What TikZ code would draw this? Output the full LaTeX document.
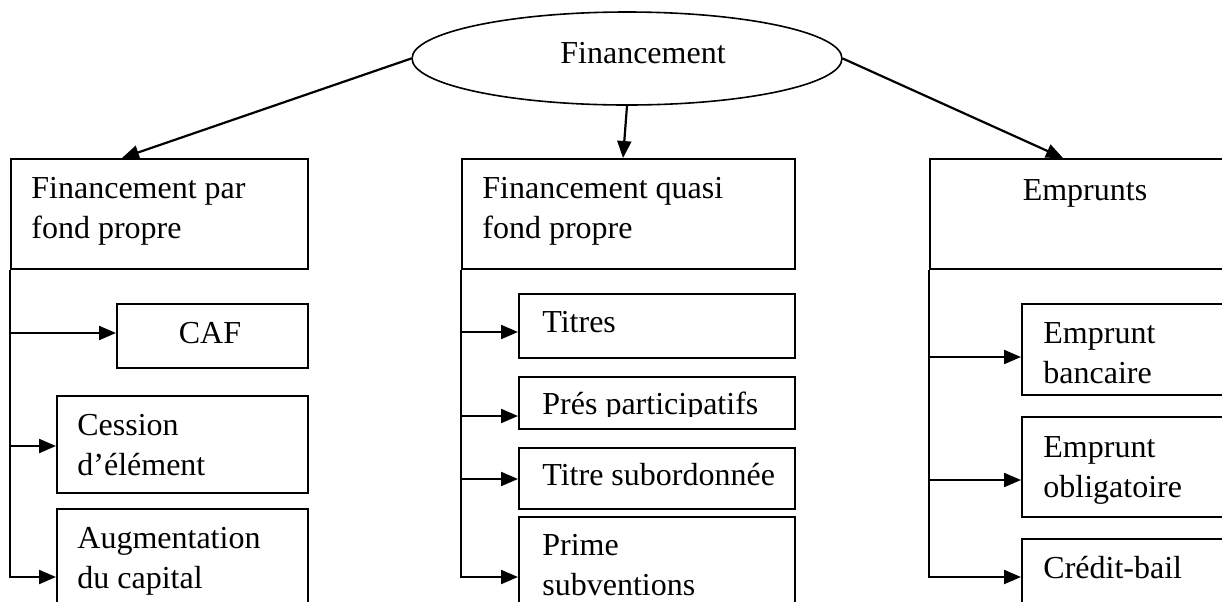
\documentclass[tikz,border=0pt]{standalone}
\usepackage{fontspec}
\setmainfont{Liberation Serif}
\usetikzlibrary{shapes.geometric,arrows.meta}
% two left-aligned lines whose baseline is that of the first line
\newcommand\twolines[2]{\vtop{\baselineskip=20pt\hbox{#1}\hbox{#2}}}
\begin{document}
\begin{tikzpicture}[x=0.5pt,y=-0.5pt,
  frame/.style={draw, line width=1pt, rectangle, inner sep=0pt, anchor=north west},
  sz/.style 2 args={minimum width=#1, minimum height=#2},
  lbl/.style={inner sep=0pt, anchor=base west, font=\fontsize{16pt}{20pt}\selectfont},
  clbl/.style={lbl, anchor=base},
  link/.style={line width=1.1pt},
  arr/.style={link, -{Triangle[length=8.5pt,width=7pt]}}]
\clip (0,0) rectangle (1222,601);
\fill[white] (0,0) rectangle (1222,601);

% root
\node[draw, ellipse, line width=0.8pt, inner sep=0pt, minimum width=215pt, minimum height=46.5pt] (fin) at (627,58.5) {};
\node[clbl] (finT) at (643,63) {Financement};

% three headings
\node[frame, sz={148.5pt}{55pt}] (L) at (10,158) {};
\node[frame, sz={166.5pt}{55pt}] (M) at (461,158) {};
\node[frame, sz={155.5pt}{55pt}] (R) at (929,158) {};
\node[lbl] (LT) at (31,198) {\twolines{Financement par}{fond propre}};
\node[lbl] (MT) at (482,198) {\twolines{Financement quasi}{fond propre}};
\node[clbl] (RT) at (1085,200) {Emprunts};

\draw[arr] (fin.west) -- ([xshift=56pt]L.north west);
\draw[arr] (fin.south) -- ([xshift=81pt]M.north west);
\draw[arr] (fin.east) -- ([xshift=67pt]R.north west);

% own funds
\node[frame, sz={95.5pt}{32pt}] (caf) at (116,303) {};
\node[frame, sz={125.5pt}{48.5pt}] (ces) at (56,395) {};
\node[frame, sz={125.5pt}{56pt}] (aug) at (56,508) {};
\node[clbl] (cafT) at (210,343) {CAF};
\node[lbl] (cesT) at (77,435) {\twolines{Cession}{d’élément}};
\node[lbl] (augT) at (77,548) {\twolines{Augmentation}{du capital}};

\coordinate (l1) at (10,333);
\coordinate (l2) at (10,446);
\coordinate (l3) at (10,577);
\draw[arr] (L.south west) -- (l3) -- (l3 -| aug.west);
\draw[arr] (l1) -- (l1 -| caf.west);
\draw[arr] (l2) -- (l2 -| ces.west);

% quasi own funds
\node[frame, sz={138pt}{32pt}] (tit) at (518,293) {};
\node[frame, sz={138pt}{26pt}] (pre) at (518,376) {};
\node[frame, sz={138pt}{30.5pt}] (sub) at (518,447) {};
\node[frame, sz={138pt}{52pt}] (pri) at (518,516) {};
\node[lbl] (titT) at (542,332) {Titres};
\begin{scope}
  \clip (518,376) rectangle (794,416);
  \node[lbl] (preT) at (542,414) {Prés participatifs};
\end{scope}
\node[lbl] (subT) at (542,485) {Titre subordonnée};
\node[lbl] (priT) at (542,555) {\twolines{Prime}{subventions}};

\coordinate (m1) at (461,332);
\coordinate (m2) at (461,416);
\coordinate (m3) at (461,479);
\coordinate (m4) at (461,577);
\draw[arr] (M.south west) -- (m4) -- (m4 -| pri.west);
\draw[arr] (m1) -- (m1 -| tit.west);
\draw[arr] (m2) -- (m2 -| pre.west);
\draw[arr] (m3) -- (m3 -| sub.west);

% loans
\node[frame, sz={109.5pt}{45.5pt}] (eb) at (1021,303) {};
\node[frame, sz={109.5pt}{50pt}] (eo) at (1021,416) {};
\node[frame, sz={109.5pt}{41pt}] (cb) at (1021,538) {};
\node[lbl] (ebT) at (1043,343) {\twolines{Emprunt}{bancaire}};
\node[lbl] (eoT) at (1043,457) {\twolines{Emprunt}{obligatoire}};
\node[lbl] (cbT) at (1043,578) {Crédit-bail};

\coordinate (r1) at (929,357);
\coordinate (r2) at (929,480);
\coordinate (r3) at (929,577);
\draw[arr] (R.south west) -- (r3) -- (r3 -| cb.west);
\draw[arr] (r1) -- (r1 -| eb.west);
\draw[arr] (r2) -- (r2 -| eo.west);
\end{tikzpicture}
\end{document}
